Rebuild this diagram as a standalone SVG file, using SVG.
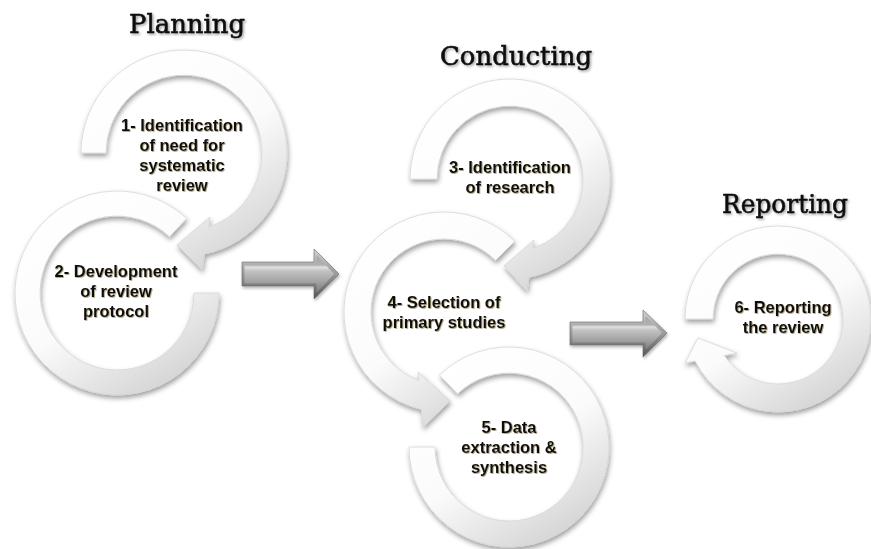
<svg xmlns="http://www.w3.org/2000/svg" width="871" height="549" viewBox="0 0 871 549">
  <defs>
    <!-- soft white-to-grey fill of the circular arrows -->
    <linearGradient id="ringFill" x1="0.2" y1="0.05" x2="0.8" y2="1">
      <stop offset="0" stop-color="#ffffff"/>
      <stop offset="0.5" stop-color="#fbfbfb"/>
      <stop offset="1" stop-color="#d0d0d0"/>
    </linearGradient>
    <!-- bevelled steel block arrows -->
    <linearGradient id="steelEdge" x1="0" y1="0" x2="0" y2="1">
      <stop offset="0" stop-color="#d2d2d2"/>
      <stop offset="0.5" stop-color="#9a9a9a"/>
      <stop offset="1" stop-color="#555555"/>
    </linearGradient>
    <linearGradient id="steelFace" x1="0" y1="0" x2="0" y2="1">
      <stop offset="0" stop-color="#a4a4a4"/>
      <stop offset="0.26" stop-color="#b0b0b0"/>
      <stop offset="0.32" stop-color="#e0e0e0"/>
      <stop offset="0.42" stop-color="#c2c2c2"/>
      <stop offset="0.72" stop-color="#a0a0a0"/>
      <stop offset="1" stop-color="#7a7a7a"/>
    </linearGradient>
    <filter id="ringShadow" x="-20%" y="-20%" width="140%" height="140%">
      <feDropShadow dx="1" dy="3" stdDeviation="2.5" flood-color="#000" flood-opacity="0.38"/>
    </filter>
    <filter id="arrowShadow" x="-20%" y="-30%" width="140%" height="160%">
      <feDropShadow dx="1" dy="2" stdDeviation="1.5" flood-color="#000" flood-opacity="0.3"/>
    </filter>
    <filter id="textHalo" x="-10%" y="-30%" width="120%" height="160%">
      <feDropShadow dx="0.8" dy="0.8" stdDeviation="0.6" flood-color="#7a6a3a" flood-opacity="0.7"/>
    </filter>
    <filter id="titleShadow" x="-10%" y="-30%" width="120%" height="160%">
      <feDropShadow dx="1.5" dy="1.5" stdDeviation="1.2" flood-color="#000" flood-opacity="0.35"/>
    </filter>
  </defs>
  <style>
    .ring { fill: url(#ringFill); stroke: #d6d6d6; stroke-width: 0.8; filter: url(#ringShadow); }
    .label { font-family: "Liberation Sans", Arial, sans-serif; font-weight: bold; font-size: 16.5px; fill: #101010; text-anchor: middle; filter: url(#textHalo); }
    .title { font-family: "DejaVu Serif", "Liberation Serif", serif; font-size: 26px; fill: #111111; stroke: #111111; stroke-width: 0.6; text-anchor: middle; filter: url(#titleShadow); }
    .edge { fill: url(#steelEdge); stroke: #6a6a6a; stroke-width: 0.6; }
    .face { fill: url(#steelFace); }
  </style>

  <rect width="871" height="549" fill="#ffffff"/>

  <!-- phase headings -->
  <g id="headings">
    <text class="title" x="187" y="33" textLength="116" lengthAdjust="spacingAndGlyphs">Planning</text>
    <text class="title" x="516" y="65" textLength="152" lengthAdjust="spacingAndGlyphs">Conducting</text>
    <text class="title" x="785" y="213" textLength="126" lengthAdjust="spacingAndGlyphs">Reporting</text>
  </g>

  <!-- Planning -->
  <g id="step1">
    <path class="ring" d="M81,153 A103,103 0 1 1 204.4,254 L202,270 L177,245 L210,217 L208.5,227.1 A78,78 0 1 0 106,153 Z"/>
    <text class="label" x="182" y="131">1- Identification</text>
    <text class="label" x="182" y="151">of need for</text>
    <text class="label" x="182" y="171">systematic</text>
    <text class="label" x="182" y="191">review</text>
  </g>
  <g id="step2">
    <path class="ring" d="M219,293 A102,102 0 1 1 186.6,218.4 L169.5,236.7 A77,77 0 1 0 194,293 Z"/>
    <text class="label" x="116" y="277">2- Development</text>
    <text class="label" x="116" y="297">of review</text>
    <text class="label" x="116" y="317">protocol</text>
  </g>

  <!-- Conducting -->
  <g id="step3">
    <path class="ring" d="M410,179 A100,100 0 1 1 528.9,277.2 L527,291 L504,266 L534,240 L532.9,248.3 A73,73 0 1 0 437,179 Z"/>
    <text class="label" x="510" y="173">3- Identification</text>
    <text class="label" x="510" y="193">of research</text>
  </g>
  <g id="step4">
    <path class="ring" d="M514.7,241.3 A100,100 0 1 0 421.4,409.4 L423,427 L450,401 L418,372 L418.8,380.5 A73,73 0 1 1 495.6,260.4 Z"/>
    <text class="label" x="444" y="308">4- Selection of</text>
    <text class="label" x="444" y="328">primary studies</text>
  </g>
  <g id="step5">
    <path class="ring" d="M409,447 A100,100 0 1 0 439.5,375.1 L457.6,393.8 A74,74 0 1 1 435,447 Z"/>
    <text class="label" x="509" y="433">5- Data</text>
    <text class="label" x="509" y="453">extraction &amp;</text>
    <text class="label" x="509" y="473">synthesis</text>
  </g>

  <!-- Reporting -->
  <g id="step6">
    <path class="ring" d="M685,319 A93,93 0 1 1 695.1,361.1 L685,363 L698,338 L737,353 L724.2,355.5 A65,65 0 1 0 713,319 Z"/>
    <text class="label" x="783" y="313">6- Reporting</text>
    <text class="label" x="783" y="333">the review</text>
  </g>

  <!-- phase-to-phase block arrows -->
  <g id="connectors">
    <g filter="url(#arrowShadow)">
      <polygon class="edge" points="242,262 314,262 314,249 339,274 314,299 314,286 242,286"/>
      <polygon class="face" points="244.5,264.5 316.5,264.5 316.5,255 334,274 316.5,293 316.5,283.5 244.5,283.5"/>
    </g>
    <g filter="url(#arrowShadow)">
      <polygon class="edge" points="570,322 643,322 643,310 667,333 643,357 643,345 570,345"/>
      <polygon class="face" points="572.5,324.5 645.5,324.5 645.5,316 662,333 645.5,350 645.5,342.5 572.5,342.5"/>
    </g>
  </g>
</svg>
